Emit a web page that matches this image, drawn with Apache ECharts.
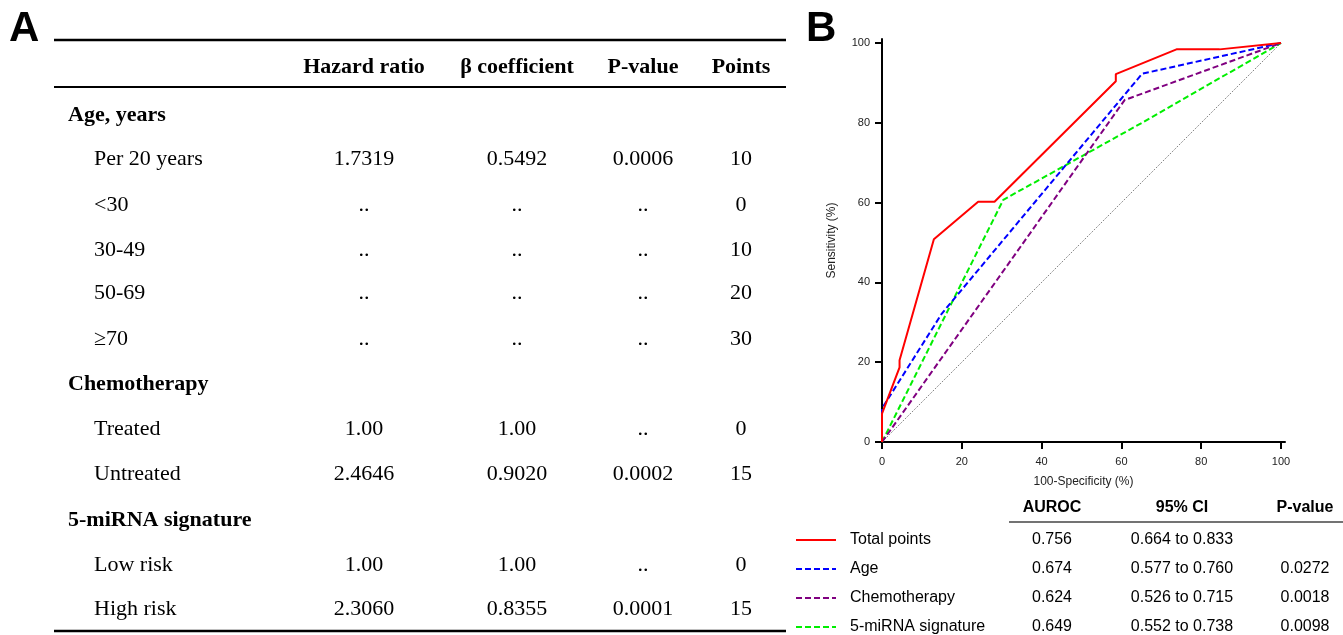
<!DOCTYPE html>
<html>
<head>
<meta charset="utf-8">
<script src="https://cdn.jsdelivr.net/npm/echarts@6/dist/echarts.min.js"></script>
<style>
  html, body { margin: 0; padding: 0; background: #fff; }
  #chart { width: 1343px; height: 635px; }
</style>
</head>
<body>
<div id="chart"></div>
<script>
// ROC curves (x = 100-specificity, y = sensitivity)
const totalX = [0, 0, 4.4, 4.4, 13.0, 24.1, 28.2, 58.6, 58.6, 73.8, 84.6, 100];
const totalY = [0, 7.1, 18.7, 20.5, 50.8, 60.2, 60.2, 90.4, 92.2, 98.4, 98.4, 100];
const ageX = [0, 0, 15.0, 65.2, 100];
const ageY = [0, 8.4, 32.2, 92.3, 100];
const chemoX = [0, 60.8, 100];
const chemoY = [0, 85.7, 100];
const mirnaX = [0, 30.4, 64.8, 100];
const mirnaY = [0, 60.7, 79.8, 100];
const refX = [0, 100];
const refY = [0, 100];
const axisTicks = [0, 20, 40, 60, 80, 100];

// legend table of panel B
const rocNames = ['Total points', 'Age', 'Chemotherapy', '5-miRNA signature'];
const rocColors = ['#ff0000', '#0000ff', '#800080', '#00ee00'];
const auroc = ['0.756', '0.674', '0.624', '0.649'];
const ci95 = ['0.664 to 0.833', '0.577 to 0.760', '0.526 to 0.715', '0.552 to 0.738'];
const rocP = ['', '0.0272', '0.0018', '0.0098'];

// table of panel A
const tableHead = ['Hazard ratio', 'β coefficient', 'P-value', 'Points'];
const rowLabels = ['Age, years', 'Per 20 years', '<30', '30-49', '50-69', '≥70',
  'Chemotherapy', 'Treated', 'Untreated', '5-miRNA signature', 'Low risk', 'High risk'];
const isGroup = [true, false, false, false, false, false, true, false, false, true, false, false];
const hazard = ['', '1.7319', '..', '..', '..', '..', '', '1.00', '2.4646', '', '1.00', '2.3060'];
const beta = ['', '0.5492', '..', '..', '..', '..', '', '1.00', '0.9020', '', '1.00', '0.8355'];
const pval = ['', '0.0006', '..', '..', '..', '..', '', '..', '0.0002', '', '..', '0.0001'];
const points = ['', '10', '0', '10', '20', '30', '', '0', '15', '', '0', '15'];

const zip = (xs, ys) => xs.map((x, i) => [x, ys[i]]);

const rowY = [115, 159, 205, 250, 293, 339, 384, 429, 474, 520, 565, 609];
const colX = [364, 517, 643, 741];
const serif = 'Liberation Serif, Times New Roman, serif';
const sans = 'Liberation Sans, Arial, sans-serif';

let graphic = [];
const txt = (x, y, text, font, align) => graphic.push({
  type: 'text', x: x, y: y, silent: true,
  style: { text: text, font: font, fill: '#000', textAlign: align || 'center', textVerticalAlign: 'middle' }
});
const hline = (x1, x2, y, w, c) => graphic.push({
  type: 'line', silent: true,
  shape: { x1: x1, y1: y, x2: x2, y2: y },
  style: { stroke: c || '#000', lineWidth: w }
});

// panel letters
txt(9, 29, 'A', 'bold 42px ' + sans, 'left');
txt(806, 29, 'B', 'bold 42px ' + sans, 'left');

// table A
hline(54, 786, 40, 2.5);
hline(54, 786, 87, 2);
hline(54, 786, 631, 2.5);
tableHead.forEach((h, i) => txt(colX[i], 67, h, 'bold 22px ' + serif));
rowLabels.forEach((lab, r) => {
  if (isGroup[r]) {
    txt(68, rowY[r], lab, 'bold 22px ' + serif, 'left');
  } else {
    txt(94, rowY[r], lab, '22px ' + serif, 'left');
    [hazard, beta, pval, points].forEach((col, c) => txt(colX[c], rowY[r], col[r], '22px ' + serif));
  }
});

// legend table B
const legCols = [1052, 1182, 1305];
txt(legCols[0], 508, 'AUROC', 'bold 16px ' + sans);
txt(legCols[1], 508, '95% CI', 'bold 16px ' + sans);
txt(legCols[2], 508, 'P-value', 'bold 16px ' + sans);
hline(1009, 1343, 522, 1.5, '#444');
const legRows = [540, 569, 598, 627];
rocNames.forEach((n, i) => {
  txt(legCols[0], legRows[i], auroc[i], '16px ' + sans);
  txt(legCols[1], legRows[i], ci95[i], '16px ' + sans);
  txt(legCols[2], legRows[i], rocP[i], '16px ' + sans);
});

const rocSeries = (name, xs, ys, color, dashed) => ({
  name: name,
  type: 'line',
  data: zip(xs, ys),
  symbol: 'none',
  silent: true,
  lineStyle: { color: color, width: 2, type: dashed ? [6, 3] : 'solid' },
  itemStyle: { color: color },
  z: dashed ? 3 : 4
});

const chart = echarts.init(document.getElementById('chart'));
chart.setOption({
  animation: false,
  backgroundColor: '#fff',
  grid: { left: 882, right: 58, top: 39, bottom: 193, containLabel: false },
  xAxis: {
    type: 'value', min: 0, max: 101,
    name: '100-Specificity (%)', nameLocation: 'middle', nameGap: 34,
    nameTextStyle: { fontSize: 12, color: '#222', fontFamily: sans },
    axisLine: { lineStyle: { color: '#000', width: 2 } },
    axisTick: { customValues: axisTicks, length: 7, lineStyle: { color: '#000', width: 2 } },
    axisLabel: { customValues: axisTicks, fontSize: 11, color: '#222', fontFamily: sans, margin: 14 },
    splitLine: { show: false }
  },
  yAxis: {
    type: 'value', min: 0, max: 101,
    name: 'Sensitivity (%)', nameLocation: 'middle', nameGap: 44,
    nameTextStyle: { fontSize: 12, color: '#222', fontFamily: sans },
    axisLine: { show: true, lineStyle: { color: '#000', width: 2 } },
    axisTick: { show: true, customValues: axisTicks, length: 7, lineStyle: { color: '#000', width: 2 } },
    axisLabel: { customValues: axisTicks, fontSize: 11, color: '#222', fontFamily: sans, margin: 12 },
    splitLine: { show: false }
  },
  legend: {
    data: rocNames,
    orient: 'vertical',
    left: 795, top: 532, height: 130,
    padding: 0,
    itemWidth: 40, itemHeight: 14, itemGap: 13,
    selectedMode: false,
    itemStyle: { opacity: 0 },
    lineStyle: { width: 2 },
    textStyle: { fontSize: 16, color: '#000', fontFamily: sans, lineHeight: 16, padding: [0, 0, 0, 9] }
  },
  series: [
    {
      name: 'Reference', type: 'line', data: zip(refX, refY), symbol: 'none', silent: true,
      lineStyle: { color: '#555', width: 1, type: [1, 1.5] }, z: 1
    },
    rocSeries(rocNames[3], mirnaX, mirnaY, rocColors[3], true),
    rocSeries(rocNames[2], chemoX, chemoY, rocColors[2], true),
    rocSeries(rocNames[1], ageX, ageY, rocColors[1], true),
    rocSeries(rocNames[0], totalX, totalY, rocColors[0], false)
  ],
  graphic: graphic
});
</script>
</body>
</html>
